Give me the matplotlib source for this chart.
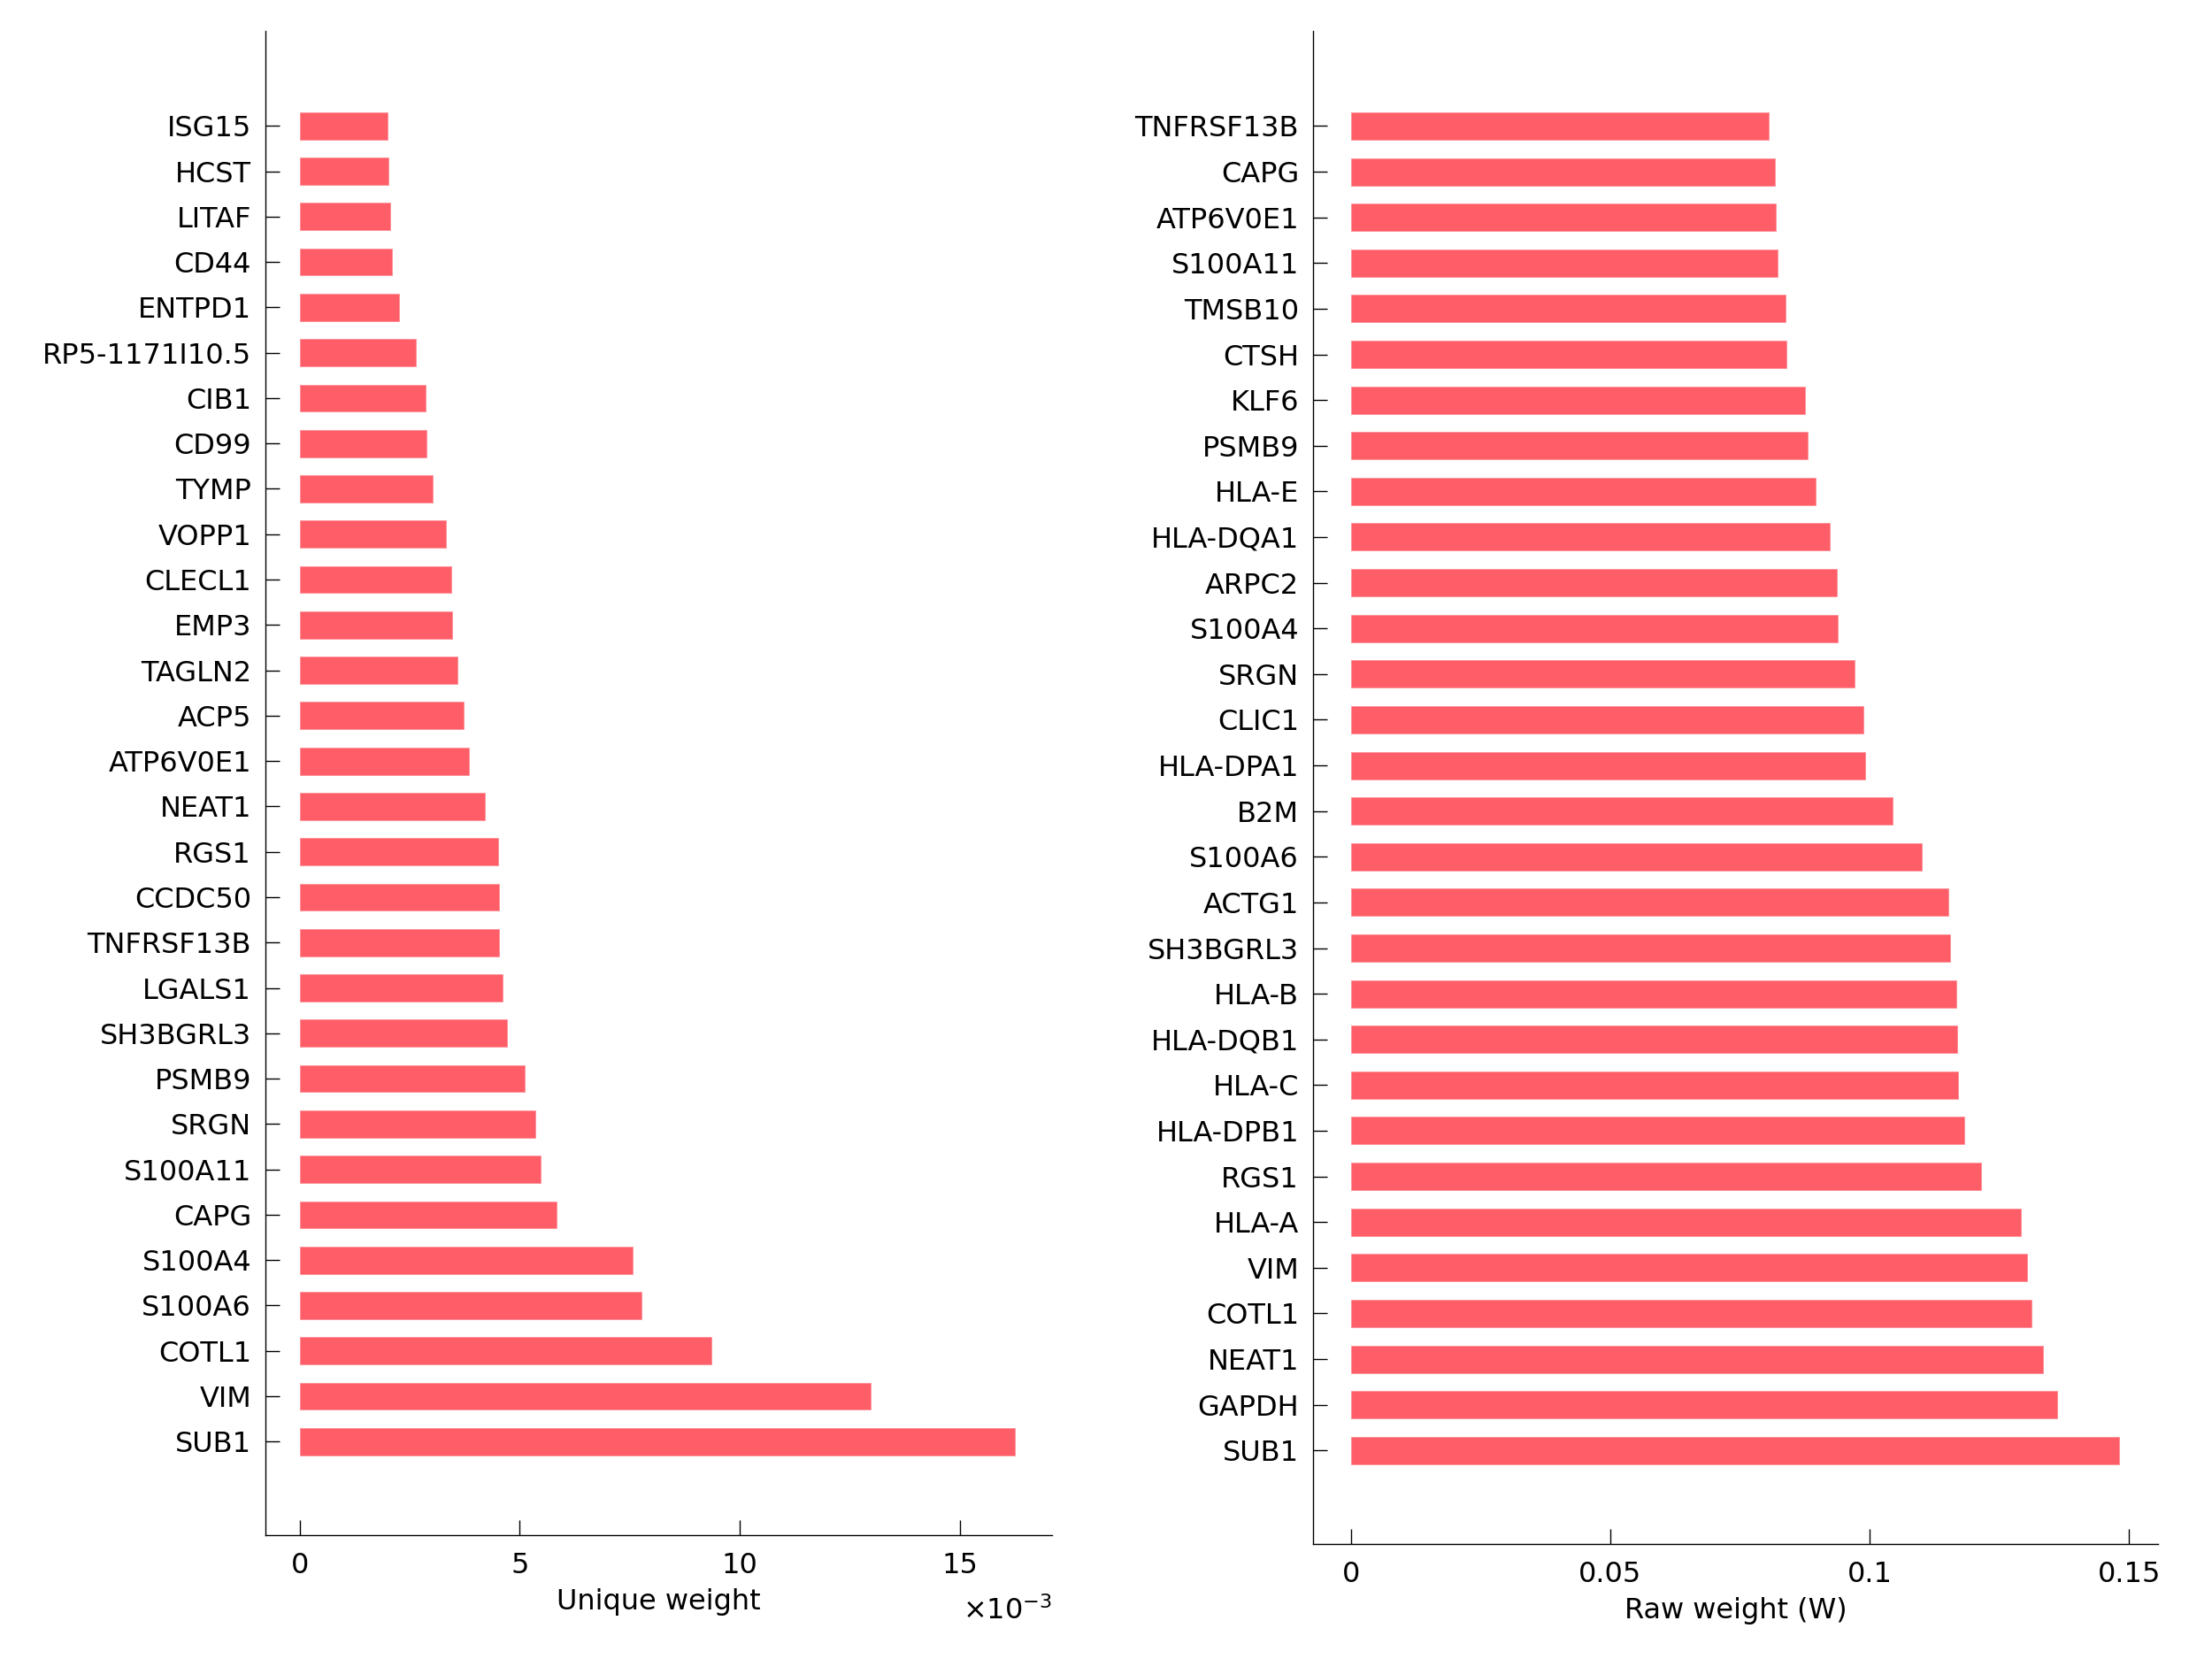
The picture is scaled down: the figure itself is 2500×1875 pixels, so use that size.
import matplotlib
matplotlib.use("Agg")
import matplotlib.pyplot as plt
from matplotlib.ticker import FuncFormatter
import numpy as np

# genes from top to bottom, as shown
unique_genes = ["ISG15", "HCST", "LITAF", "CD44", "ENTPD1", "RP5-1171I10.5", "CIB1",
                "CD99", "TYMP", "VOPP1", "CLECL1", "EMP3", "TAGLN2", "ACP5", "ATP6V0E1",
                "NEAT1", "RGS1", "CCDC50", "TNFRSF13B", "LGALS1", "SH3BGRL3", "PSMB9",
                "SRGN", "S100A11", "CAPG", "S100A4", "S100A6", "COTL1", "VIM", "SUB1"]
unique_weight = [2.00e-3, 2.01e-3, 2.06e-3, 2.09e-3, 2.26e-3, 2.65e-3, 2.87e-3,
                 2.89e-3, 3.02e-3, 3.32e-3, 3.44e-3, 3.46e-3, 3.59e-3, 3.72e-3, 3.85e-3,
                 4.20e-3, 4.51e-3, 4.53e-3, 4.54e-3, 4.61e-3, 4.71e-3, 5.11e-3,
                 5.36e-3, 5.47e-3, 5.83e-3, 7.56e-3, 7.77e-3, 9.35e-3, 12.98e-3, 16.25e-3]

raw_genes = ["TNFRSF13B", "CAPG", "ATP6V0E1", "S100A11", "TMSB10", "CTSH", "KLF6",
             "PSMB9", "HLA-E", "HLA-DQA1", "ARPC2", "S100A4", "SRGN", "CLIC1",
             "HLA-DPA1", "B2M", "S100A6", "ACTG1", "SH3BGRL3", "HLA-B", "HLA-DQB1",
             "HLA-C", "HLA-DPB1", "RGS1", "HLA-A", "VIM", "COTL1", "NEAT1", "GAPDH", "SUB1"]
raw_weight = [0.0805, 0.0817, 0.0819, 0.0823, 0.0838, 0.0840, 0.0876,
              0.0880, 0.0895, 0.0923, 0.0936, 0.0939, 0.0971, 0.0988,
              0.0991, 0.1044, 0.1100, 0.1152, 0.1155, 0.1166, 0.1168,
              0.1170, 0.1182, 0.1214, 0.1292, 0.1303, 0.1311, 0.1334, 0.1361, 0.1481]

bar_color = "#FF5E69"
fs = 23

plt.rcParams['font.family'] = ['DejaVu Sans']
fig = plt.figure(figsize=(25, 18.75), dpi=100)


def panel(rect, genes, values, xlim, ylim, xticks, xlabel):
    ax = fig.add_axes(rect)
    n = len(genes)
    ypos = np.arange(n, 0, -1)
    ax.barh(ypos, values, height=0.6, color=bar_color, edgecolor="#FF8F97", linewidth=0.6)
    ax.set_yticks(ypos)
    ax.set_yticklabels(genes)
    ax.set_xticks(xticks)
    ax.set_xlim(xlim)
    ax.set_ylim(ylim)
    for s in ["top", "right"]:
        ax.spines[s].set_visible(False)
    for s in ["left", "bottom"]:
        ax.spines[s].set_linewidth(1.0)
    ax.tick_params(axis="y", direction="in", length=11.5, width=1.0, pad=11.5, labelsize=fs)
    ax.tick_params(axis="x", direction="in", length=12, width=1.0, pad=13.5, labelsize=fs)
    ax.set_xlabel(xlabel, fontsize=fs, labelpad=7.5)
    return ax


ax1 = panel([0.12, 0.0745, 0.3556, 0.9068], unique_genes, unique_weight,
            (-0.778e-3, 17.10e-3), (-1.067, 32.09), [0, 0.005, 0.010, 0.015], "Unique weight")
# MATLAB-style exponent label under the right end of the axis
ax1.xaxis.set_major_formatter(FuncFormatter(lambda v, p: "%g" % round(v * 1e3, 6)))
ax1.text(1.0, -0.0557, r"$\times10^{-3}$", transform=ax1.transAxes,
         ha="right", va="baseline", fontsize=fs)

ax2 = panel([0.5936, 0.0692, 0.3819, 0.9121], raw_genes, raw_weight,
            (-0.00728, 0.1555), (-1.053, 32.08), [0, 0.05, 0.1, 0.15], "Raw weight (W)")
ax2.set_xticklabels(["0", "0.05", "0.1", "0.15"])

fig.savefig("out.png", dpi=100)
